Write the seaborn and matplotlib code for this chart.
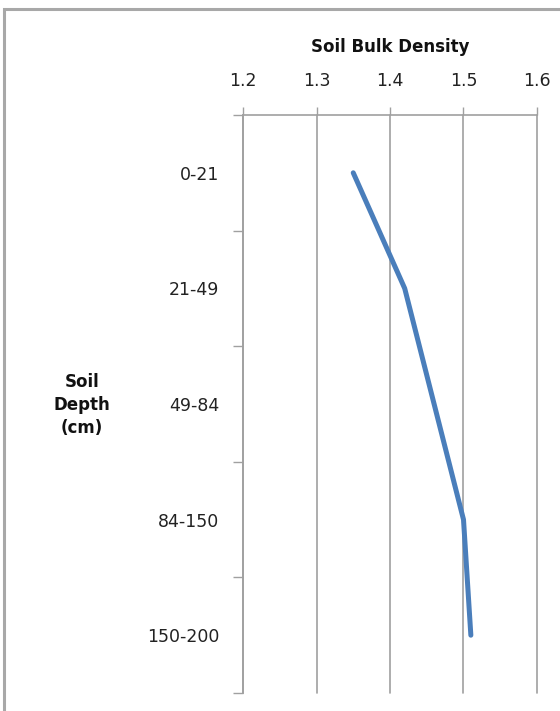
import numpy as np
import matplotlib
matplotlib.use("Agg")
import matplotlib.pyplot as plt
import seaborn as sns
from matplotlib.patches import Rectangle
from matplotlib.ticker import FixedLocator

# data
depths = ["0-21", "21-49", "49-84", "84-150", "150-200"]
bulk_density = [1.35, 1.42, 1.46, 1.50, 1.51]
x_ticks = [1.2, 1.3, 1.4, 1.5, 1.6]

sns.set_theme(style="white")
plt.rcParams['font.family'] = ['DejaVu Sans']
plt.rcParams['font.sans-serif'] = ['DejaVu Sans']

grey = "#a0a0a0"

fig = plt.figure(figsize=(5.6, 7.11), dpi=100)
ax = fig.add_axes([243 / 560, 1 - 693 / 711, (537 - 243) / 560, (693 - 115) / 711])

pos = np.arange(len(depths))
sns.lineplot(x=bulk_density, y=pos, sort=False, ax=ax, color="#4a7ebb",
             linewidth=3.6, solid_capstyle="round", solid_joinstyle="round")

# x axis on top
ax.set_xlim(1.2, 1.6)
ax.xaxis.tick_top()
ax.set_xticks(x_ticks)
ax.set_xticklabels([f"{t:.1f}" for t in x_ticks], fontsize=12.5, color="#222222",
                   family="DejaVu Sans")
ax.tick_params(axis="x", which="major", direction="out", length=6, width=1,
               color=grey, pad=12, top=True, bottom=False)
ax.grid(axis="x", color=grey, linewidth=1.2)
for gl in ax.get_xgridlines():
    gl.set_clip_on(False)
ax.set_xlabel("")

# categorical y axis, top to bottom
ax.set_ylim(len(depths) - 0.5, -0.5)
ax.set_yticks(pos)
ax.set_yticklabels(depths, fontsize=12.5, color="#222222", family="DejaVu Sans")
ax.tick_params(axis="y", which="major", length=0, pad=17)
ax.yaxis.set_minor_locator(FixedLocator(np.arange(-0.5, len(depths), 1.0)))
ax.tick_params(axis="y", which="minor", direction="out", length=7, width=1,
               color=grey, left=True)
ax.set_ylabel("")

for side in ["right", "bottom"]:
    ax.spines[side].set_visible(False)
for side in ["left", "top"]:
    ax.spines[side].set_color(grey)
    ax.spines[side].set_linewidth(1.2)

fig.text(390 / 560, 1 - 47 / 711, "Soil Bulk Density", fontsize=12,
         fontweight="bold", family="DejaVu Sans", ha="center", va="center",
         color="#111111")
fig.text(82 / 560, 1 - 405 / 711, "Soil\nDepth\n(cm)", fontsize=12,
         fontweight="bold", family="DejaVu Sans", ha="center", va="center",
         linespacing=1.35, color="#111111")

# outer chart frame
fig.patches.append(Rectangle((4 / 560, -0.1), 1.2, 1.1 - 9 / 711,
                             transform=fig.transFigure, fill=False,
                             edgecolor="#a8a8a8", linewidth=2.2))

fig.savefig("out.png", dpi=100, facecolor="white")
